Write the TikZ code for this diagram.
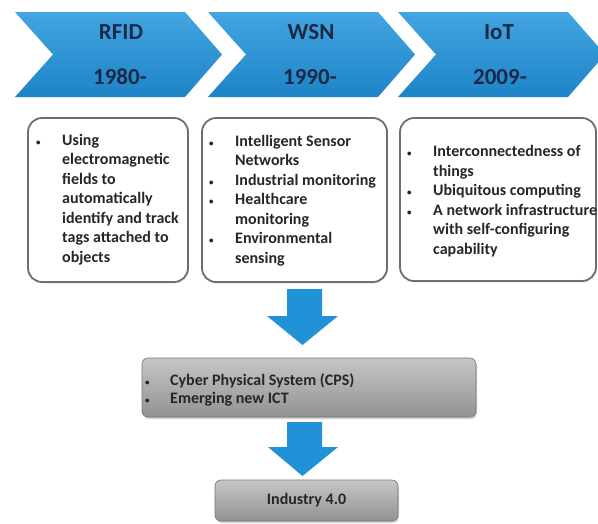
\documentclass[tikz,border=0pt]{standalone}
\usepackage{fontspec}
\setmainfont{Carlito}
\usetikzlibrary{shadows}
\definecolor{chevtop}{HTML}{43A5E1}
\definecolor{chevbot}{HTML}{1E84C7}
\definecolor{arrowblue}{HTML}{2191D8}
\definecolor{titletext}{HTML}{1C2A48}
\definecolor{bodytext}{HTML}{262626}
\definecolor{boxline}{HTML}{6E6E6E}
\definecolor{graytop}{HTML}{C6C6C6}
\definecolor{graybot}{HTML}{929292}
\newcommand{\bul}{{\fontsize{9}{9}\selectfont\textbullet}}
\begin{document}
\begin{tikzpicture}[x=1pt,y=-1pt,
  chev/.style={top color=chevtop, bottom color=chevbot, draw=none},
  titletxt/.style={font=\fontsize{23}{23}\selectfont\bfseries, text=titletext, inner sep=0pt},
  infobox/.style={draw=boxline, line width=1.8pt, rounded corners=14pt, fill=white,
    drop shadow={opacity=0.15, shadow xshift=1pt, shadow yshift=-1.5pt}},
  listtxt/.style={font=\fontsize{16}{19.5}\selectfont\bfseries, text=bodytext, inner sep=0pt, anchor=west},
  graybox/.style={draw=graybot!80!black, line width=0.6pt, rounded corners=6pt, top color=graytop, bottom color=graybot,
    drop shadow={opacity=0.35, shadow xshift=1pt, shadow yshift=-2pt}},
  bigarrow/.style={fill=arrowblue, draw=none}]
\useasboundingbox (0,0) rectangle (598,523);
\clip (0,0) rectangle (598,523);
\fill[white] (0,0) rectangle (598,523);

% chevrons
\path[chev] (15,12) -- (185,12) -- (222,54.5) -- (185,97) -- (15,97) -- (53,54.5) -- cycle;
\path[chev] (208,12) -- (378,12) -- (415,54.5) -- (378,97) -- (208,97) -- (246,54.5) -- cycle;
\path[chev] (398,12) -- (568,12) -- (605,54.5) -- (568,97) -- (398,97) -- (436,54.5) -- cycle;

\node[titletxt] (rfid) at (121,32) {RFID};
\node[titletxt] (y1) at (120,77) {1980-};
\node[titletxt] (wsn) at (311,32) {WSN};
\node[titletxt] (y2) at (310,77) {1990-};
\node[titletxt] (iot) at (499,32) {IoT};
\node[titletxt] (y3) at (500,77) {2009-};

% info boxes
\node[infobox, minimum width=160pt, minimum height=164pt] (b1) at (108,200) {};
\node[infobox, minimum width=185pt, minimum height=164pt] (b2) at (294.5,200) {};
\node[infobox, minimum width=196pt, minimum height=163pt] (b3) at (498,199.5) {};

\node[listtxt] (t1) at (36,200) {\begin{tabular}{@{}p{26pt}@{}l@{}}
\bul & Using\\
 & electromagnetic\\
 & fields to\\
 & automatically\\
 & identify and track\\
 & tags attached to\\
 & objects
\end{tabular}};

\node[listtxt] (t2) at (209,201) {\begin{tabular}{@{}p{26pt}@{}l@{}}
\bul & Intelligent Sensor\\
 & Networks\\
\bul & Industrial monitoring\\
\bul & Healthcare\\
 & monitoring\\
\bul & Environmental\\
 & sensing
\end{tabular}};

\node[listtxt] (t3) at (407,201.5) {\begin{tabular}{@{}p{26pt}@{}l@{}}
\bul & Interconnectedness of\\
 & things\\
\bul & Ubiquitous computing\\
\bul & A network infrastructure\\
 & with self-configuring\\
 & capability
\end{tabular}};

% arrow 1
\path[bigarrow] (287,289) -- (322,289) -- (322,316) -- (338,316) -- (302.5,345) -- (267,316) -- (287,316) -- cycle;

% CPS box
\node[graybox, minimum width=334pt, minimum height=59pt] (cps) at (309,387.5) {};
\node[listtxt, font=\fontsize{16}{18}\selectfont\bfseries] (tc) at (145,391) {\begin{tabular}{@{}p{25pt}@{}l@{}}
\bul & Cyber Physical System (CPS)\\
\bul & Emerging new ICT
\end{tabular}};

% arrow 2
\path[bigarrow] (287,422) -- (322,422) -- (322,447) -- (338,447) -- (302.5,476) -- (268,447) -- (287,447) -- cycle;

% Industry box
\node[graybox, minimum width=183pt, minimum height=41pt, text=bodytext, font=\fontsize{16}{18}\selectfont\bfseries] (ind) at (306.5,500.5) {Industry 4.0};
\end{tikzpicture}
\end{document}
